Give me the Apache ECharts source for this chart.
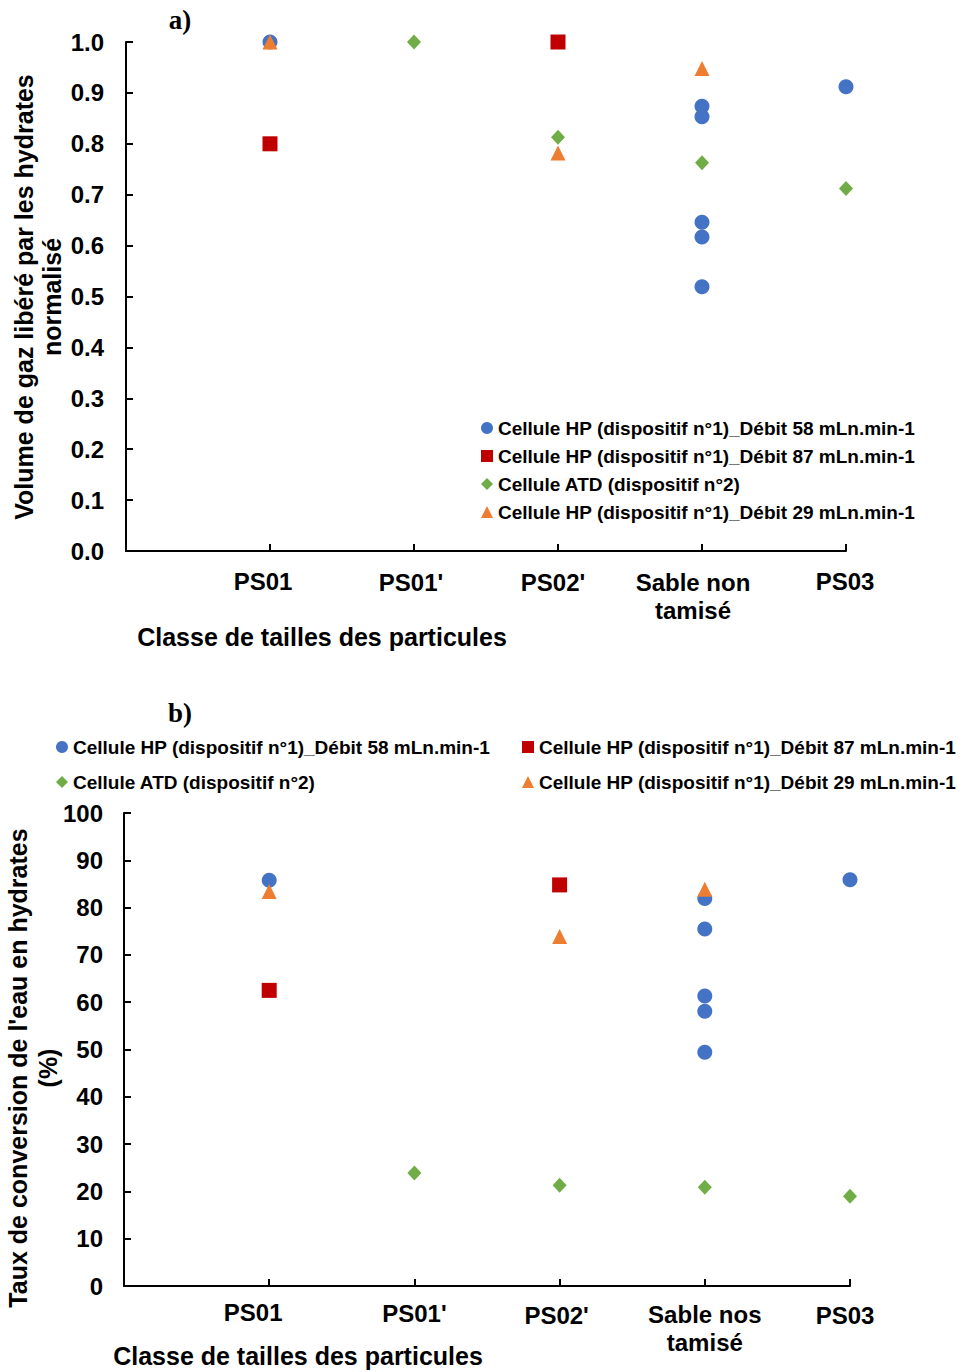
<!DOCTYPE html>
<html>
<head>
<meta charset="utf-8">
<script src="https://cdn.jsdelivr.net/npm/echarts@6/dist/echarts.min.js"></script>
<style>
html,body{margin:0;padding:0;background:#fff;}
#chart{width:965px;height:1372px;}
</style>
</head>
<body>
<div id="chart"></div>
<script>
// ---- Data ----
const categoriesA = ['', 'PS01', "PS01'", "PS02'", 'Sable non\ntamisé', 'PS03'];
const categoriesB = ['', 'PS01', "PS01'", "PS02'", 'Sable nos\ntamisé', 'PS03'];

const seriesNames = [
  'Cellule HP (dispositif n°1)_Débit 58 mLn.min-1',
  'Cellule HP (dispositif n°1)_Débit 87 mLn.min-1',
  'Cellule ATD (dispositif n°2)',
  'Cellule HP (dispositif n°1)_Débit 29 mLn.min-1'
];

// Chart a) : normalised released gas volume  (category index into categories, value)
const a_hp58_cat = [1, 4, 4, 4, 4, 4, 5];
const a_hp58_val = [1.0, 0.874, 0.853, 0.646, 0.617, 0.519, 0.912];
const a_hp87_cat = [1, 3];
const a_hp87_val = [0.80, 1.0];
const a_atd_cat  = [2, 3, 4, 5];
const a_atd_val  = [1.0, 0.813, 0.763, 0.712];
const a_hp29_cat = [1, 3, 4];
const a_hp29_val = [1.0, 0.782, 0.948];

// Chart b) : water-to-hydrate conversion (%)
const b_hp58_cat = [1, 4, 4, 4, 4, 4, 5];
const b_hp58_val = [85.8, 81.9, 75.5, 61.3, 58.1, 49.4, 85.9];
const b_hp87_cat = [1, 3];
const b_hp87_val = [62.5, 84.8];
const b_atd_cat  = [2, 3, 4, 5];
const b_atd_val  = [23.9, 21.3, 20.9, 19.0];
const b_hp29_cat = [1, 3, 4];
const b_hp29_val = [83.4, 73.9, 83.9];

const yTicksA = { min: 0, max: 1, interval: 0.1 };
const yTicksB = { min: 0, max: 100, interval: 10 };

// ---- Styling ----
const FONT = "'Liberation Sans', Arial, sans-serif";
const colors = ['#4472C4', '#C00000', '#70AD47', '#ED7D31'];
const symbols = ['circle', 'rect', 'diamond', 'triangle'];
const sizes = [15, 15, [14, 15], 15];
// per-label nudges [right padding, top padding] mimicking the original's label placement
const labelNudgeA = [[0, 0], [14, 0], [6, 3], [10, 3], [18, 3], [2, 0]];
const labelNudgeB = [[0, 0], [32, 0], [0, 3], [6, 7], [0, 4], [10, 6]];

function pairs(cats, vals, labels) {
  return cats.map((c, i) => [labels[c], vals[i]]);
}

function makeSeries(gridIdx, dataSets, labels) {
  return dataSets.map((d, k) => ({
    name: seriesNames[k],
    type: 'scatter',
    xAxisIndex: gridIdx,
    yAxisIndex: gridIdx,
    symbol: symbols[k],
    symbolSize: sizes[k],
    itemStyle: { color: colors[k], opacity: 1 },
    clip: false,
    data: pairs(d[0], d[1], labels)
  }));
}

function xAxisCfg(gridIdx, cats, margin, nudge) {
  const rich = {};
  nudge.forEach((n, i) => {
    rich['c' + i] = { fontSize: 24, fontWeight: 'bold', color: '#000', lineHeight: 28, fontFamily: FONT, padding: [n[1], n[0], 0, 0] };
  });
  return {
    gridIndex: gridIdx,
    type: 'category',
    data: cats,
    boundaryGap: false,
    axisLine: { show: true, lineStyle: { color: '#000', width: 2 } },
    axisTick: { show: true, inside: true, length: 7, interval: 0, lineStyle: { color: '#000', width: 2 } },
    axisLabel: { interval: 0, margin: margin, fontSize: 24, fontWeight: 'bold', color: '#000', lineHeight: 28, fontFamily: FONT,
      formatter: (v, i) => v ? v.split('\n').map(s => '{c' + i + '|' + s + '}').join('\n') : '',
      rich: rich },
    splitLine: { show: false }
  };
}

function yAxisCfg(gridIdx, t, dec, margin) {
  return {
    gridIndex: gridIdx,
    type: 'value',
    min: t.min, max: t.max, interval: t.interval,
    axisLine: { show: true, lineStyle: { color: '#000', width: 2 } },
    axisTick: { show: true, inside: true, length: 7, lineStyle: { color: '#000', width: 2 } },
    axisLabel: { margin: margin, fontSize: 24, fontWeight: 'bold', color: '#000', fontFamily: FONT,
      formatter: v => Number(v).toFixed(dec) },
    splitLine: { show: false }
  };
}

const legendText = { fontSize: 19, fontWeight: 'bold', color: '#000', fontFamily: FONT, lineHeight: 20 };
const legendIcons = seriesNames.map((n, k) => ({ name: n, icon: symbols[k] }));
const titleFont = { fontSize: 25, fontWeight: 'bold', fontFamily: FONT, fill: '#000', align: 'center', verticalAlign: 'middle' };
const serif = "'Liberation Serif', 'Times New Roman', serif";

const chart = echarts.init(document.getElementById('chart'), null, { renderer: 'svg' });
chart.setOption({
  animation: false,
  backgroundColor: '#fff',
  grid: [
    { left: 126, right: 119, top: 42, bottom: 821 },
    { left: 124, right: 115, top: 813, bottom: 86 }
  ],
  xAxis: [xAxisCfg(0, categoriesA, 16, labelNudgeA), xAxisCfg(1, categoriesB, 12, labelNudgeB)],
  yAxis: [yAxisCfg(0, yTicksA, 1, 22), yAxisCfg(1, yTicksB, 0, 21)],
  legend: [
    { orient: 'vertical', left: 481, top: 418, padding: 0, itemGap: 8, itemWidth: 12, itemHeight: 12,
      selectedMode: false, textStyle: legendText, data: legendIcons },
    { orient: 'vertical', left: 56, top: 737, padding: 0, itemGap: 15, itemWidth: 12, itemHeight: 12,
      selectedMode: false, textStyle: legendText, data: [legendIcons[0], legendIcons[2]] },
    { orient: 'vertical', left: 522, top: 737, padding: 0, itemGap: 15, itemWidth: 12, itemHeight: 12,
      selectedMode: false, textStyle: legendText, data: [legendIcons[1], legendIcons[3]] }
  ],
  graphic: [
    { type: 'text', x: 180, y: 20, style: { text: 'a)', fontSize: 27, fontWeight: 'bold', fontFamily: serif, fill: '#000', align: 'center', verticalAlign: 'middle' } },
    { type: 'text', x: 180, y: 713, style: { text: 'b)', fontSize: 27, fontWeight: 'bold', fontFamily: serif, fill: '#000', align: 'center', verticalAlign: 'middle' } },
    { type: 'text', x: 322, y: 637, style: Object.assign({ text: 'Classe de tailles des particules' }, titleFont) },
    { type: 'text', x: 298, y: 1356, style: Object.assign({ text: 'Classe de tailles des particules' }, titleFont) },
    { type: 'text', x: 38, y: 297, rotation: Math.PI / 2, style: Object.assign({ text: 'Volume de gaz libéré par les hydrates\nnormalisé', lineHeight: 28 }, titleFont) },
    { type: 'text', x: 33, y: 1068, rotation: Math.PI / 2, style: Object.assign({ text: "Taux de conversion de l'eau en hydrates\n(%)", lineHeight: 30 }, titleFont) }
  ],
  series: [].concat(
    makeSeries(0, [[a_hp58_cat, a_hp58_val], [a_hp87_cat, a_hp87_val], [a_atd_cat, a_atd_val], [a_hp29_cat, a_hp29_val]], categoriesA),
    makeSeries(1, [[b_hp58_cat, b_hp58_val], [b_hp87_cat, b_hp87_val], [b_atd_cat, b_atd_val], [b_hp29_cat, b_hp29_val]], categoriesB)
  )
});
</script>
</body>
</html>
